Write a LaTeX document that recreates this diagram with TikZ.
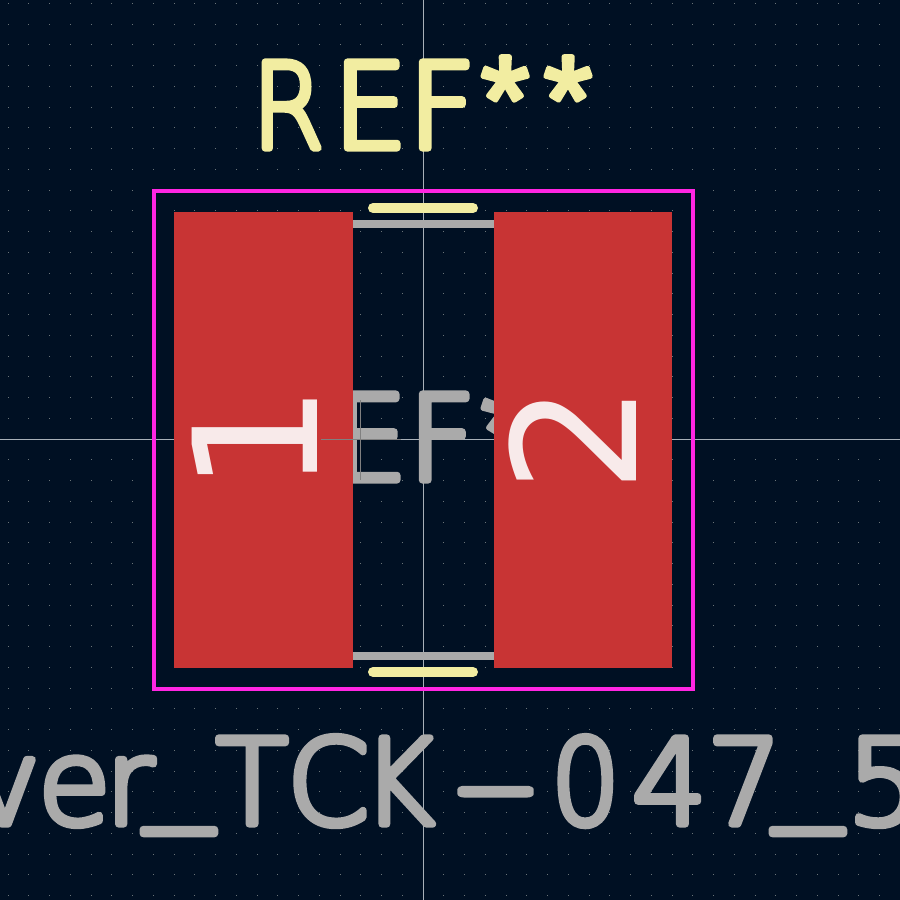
\documentclass[tikz,border=0pt]{standalone}
\usepackage{fontspec}
\newfontfamily\kcfont{DejaVu Sans ExtraLight}[FakeBold=6]
\newfontfamily\starfont{Liberation Sans}[FakeBold=4]
\newfontfamily\padfont{DejaVu Sans}
\definecolor{bgc}{HTML}{001023}
\definecolor{padc}{HTML}{C83434}
\definecolor{silk}{HTML}{F2EDA1}
\definecolor{fab}{HTML}{AAAAAA}
\definecolor{court}{HTML}{FF26E2}
\definecolor{hair}{HTML}{A8B0B8}
\definecolor{griddot}{HTML}{6A7478}
\definecolor{padtxt}{HTML}{F8EAEA}
\newcommand{\kcell}[2]{\makebox[#1pt][l]{#2}}
\newcommand{\kstar}{\raisebox{6pt}{\starfont\fontsize{124}{124}\selectfont *}}
\newcommand{\kbar}{\raisebox{18pt}{\scalebox{1.15}[1]{\_}}}
\newcommand{\kdash}{\scalebox{2}[1]{-}}
\newcommand{\kref}{\kcell{81}{\scalebox{.88}[1]{R}}\kcell{75}{E}\kcell{73}{F}\kcell{63}{\kstar}\kstar}
\tikzset{
  x=1pt,y=-1pt,
  strokeText/.style={inner sep=0pt,outer sep=0pt,anchor=base west,font=\kcfont\fontsize{118}{118}\selectfont,line join=round},
  padText/.style={inner sep=0pt,outer sep=0pt,rotate=90,font=\padfont\fontsize{172}{172}\selectfont,text=padtxt},
  padBox/.style={fill=padc,draw=none},
  fabBar/.style={fill=fab,draw=none},
  silkBar/.style={draw=silk,line width=10pt,line cap=round},
  hairline/.style={draw=hair,line width=0.8pt},
  anchorMark/.style={draw=black!50!white,line width=0.8pt},
}
\begin{document}
\begin{tikzpicture}
\useasboundingbox (0,0) rectangle (900,900);
\clip (0,0) rectangle (900,900);
\fill[bgc] (0,0) rectangle (900,900);
\foreach \i in {-20,...,23}{\foreach \j in {-21,...,22}{
  \pgfmathsetmacro{\px}{423+20.75*\i}\pgfmathsetmacro{\py}{439+20.75*\j}
  \fill[griddot] (\px-0.5,\py-0.5) rectangle (\px+0.5,\py+0.5);
}}
\draw[hairline] (423,0) -- (423,900);
\draw[hairline] (0,439) -- (900,439);
\node[strokeText,text=fab] (fabref) at (252,480) {\kref};
\fill[padBox] (174,212) rectangle (353,668);
\fill[padBox] (494,212) rectangle (672,668);
\fill[fabBar] (353,220) rectangle (494,228);
\fill[fabBar] (353,652) rectangle (494,660);
\draw[silkBar] (373,208) -- (473,208);
\draw[silkBar] (373,672) -- (473,672);
\draw[court,line width=4pt] (154,191) rectangle (693,689);
\draw[anchorMark] (321,439) -- (401,439);
\draw[anchorMark] (360,400) -- (360,480);
\node[strokeText,text=silk] (ref) at (252,148) {\kref};
\node[strokeText,text=fab] (val) at (-30,824) {\kcell{68}{v}\kcell{67}{e}\kcell{40}{r}\kcell{71}{\kbar}\kcell{71}{T}\kcell{76}{C}\kcell{90}{\scalebox{.92}[1]{K}}\kcell{98}{\kdash}\kcell{81}{\scalebox{.92}[1]{0}}\kcell{75}{4}\kcell{67}{7}\kcell{73}{\kbar}5};
\node[padText] (pad1) at (255,439) {1};
\node[padText] (pad2) at (573,439) {2};
\end{tikzpicture}
\end{document}
